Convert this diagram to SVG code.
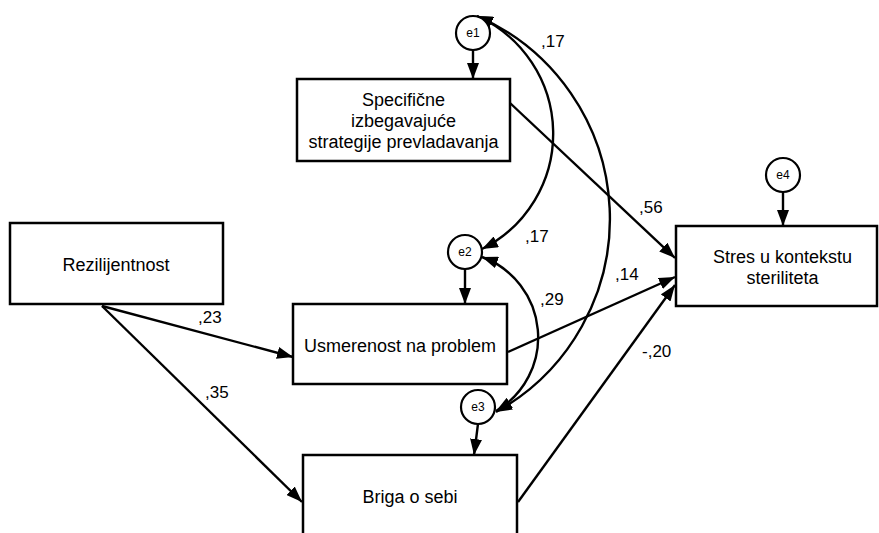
<svg xmlns="http://www.w3.org/2000/svg" width="879" height="533" viewBox="0 0 879 533">
  <defs>
    <marker id="arrow" viewBox="0 0 16 12" refX="16" refY="6" markerWidth="16" markerHeight="12" markerUnits="userSpaceOnUse" orient="auto-start-reverse">
      <path d="M0,0 L16,6 L0,12 z" fill="#000"/>
    </marker>
    <style>
      .box { fill: #fff; stroke: #000; stroke-width: 2.5; }
      .err { fill: #fff; stroke: #000; stroke-width: 2.2; }
      .lbl { font-family: "Liberation Sans", Arial, sans-serif; font-size: 18px; fill: #000; text-anchor: middle; }
      .elbl { font-family: "Liberation Sans", Arial, sans-serif; font-size: 12px; fill: #000; text-anchor: middle; }
      .coef { font-family: "Liberation Sans", Arial, sans-serif; font-size: 17px; fill: #000; }
      .path { fill: none; stroke: #000; stroke-width: 2.4; marker-end: url(#arrow); }
      .cov { fill: none; stroke: #000; stroke-width: 2.4; marker-start: url(#arrow); marker-end: url(#arrow); }
    </style>
  </defs>
  <rect width="879" height="533" fill="#fff"/>

  <!-- connectors -->
  <g id="connectors">
    <!-- regression paths -->
    <line class="path" x1="102" y1="306" x2="293" y2="357"/>
    <line class="path" x1="102" y1="306" x2="302" y2="502"/>
    <line class="path" x1="510" y1="103" x2="675" y2="258"/>
    <line class="path" x1="508" y1="352" x2="675" y2="277"/>
    <line class="path" x1="518" y1="502" x2="675" y2="285"/>
    <!-- error terms -->
    <line class="path" x1="473" y1="50" x2="473" y2="79"/>
    <line class="path" x1="465" y1="269" x2="465" y2="304"/>
    <line class="path" x1="478" y1="424" x2="474" y2="455"/>
    <line class="path" x1="783" y1="193" x2="783" y2="226"/>
    <!-- covariances -->
    <path class="cov" d="M477,16 A129,129 0 0 1 482,249"/>
    <path class="cov" d="M477,16 A221,221 0 0 1 496,412"/>
    <path class="cov" d="M482,257 A85.5,85.5 0 0 1 496,411"/>
    <!-- coefficients -->
    <text class="coef" x="198" y="323">,23</text>
    <text class="coef" x="205" y="398">,35</text>
    <text class="coef" x="639" y="213">,56</text>
    <text class="coef" x="615" y="280">,14</text>
    <text class="coef" x="642" y="357">-,20</text>
    <text class="coef" x="541" y="47">,17</text>
    <text class="coef" x="525" y="242">,17</text>
    <text class="coef" x="540" y="305">,29</text>
  </g>

  <g id="rezilijentnost">
    <rect class="box" x="10" y="223" width="213" height="81"/>
    <text class="lbl" x="116" y="271">Rezilijentnost</text>
  </g>

  <g id="specificne">
    <rect class="box" x="297" y="79" width="213" height="82"/>
    <text class="lbl" x="403.5" y="106">Specifične</text>
    <text class="lbl" x="403.5" y="127">izbegavajuće</text>
    <text class="lbl" x="403.5" y="148">strategije prevladavanja</text>
  </g>

  <g id="usmerenost">
    <rect class="box" x="293" y="304" width="214" height="80"/>
    <text class="lbl" x="400" y="352">Usmerenost na problem</text>
  </g>

  <g id="briga">
    <rect class="box" x="303" y="455" width="214" height="95"/>
    <text class="lbl" x="410" y="503">Briga o sebi</text>
  </g>

  <g id="stres">
    <rect class="box" x="676" y="226" width="201" height="80"/>
    <text class="lbl" x="782.5" y="263">Stres u kontekstu</text>
    <text class="lbl" x="782.5" y="284">steriliteta</text>
  </g>

  <g id="e1">
    <circle class="err" cx="473" cy="33" r="17"/>
    <text class="elbl" x="473" y="37">e1</text>
  </g>
  <g id="e2">
    <circle class="err" cx="465" cy="252" r="17"/>
    <text class="elbl" x="465" y="256">e2</text>
  </g>
  <g id="e3">
    <circle class="err" cx="478" cy="407" r="17"/>
    <text class="elbl" x="478" y="411">e3</text>
  </g>
  <g id="e4">
    <circle class="err" cx="783" cy="175" r="17"/>
    <text class="elbl" x="783" y="179">e4</text>
  </g>
</svg>
